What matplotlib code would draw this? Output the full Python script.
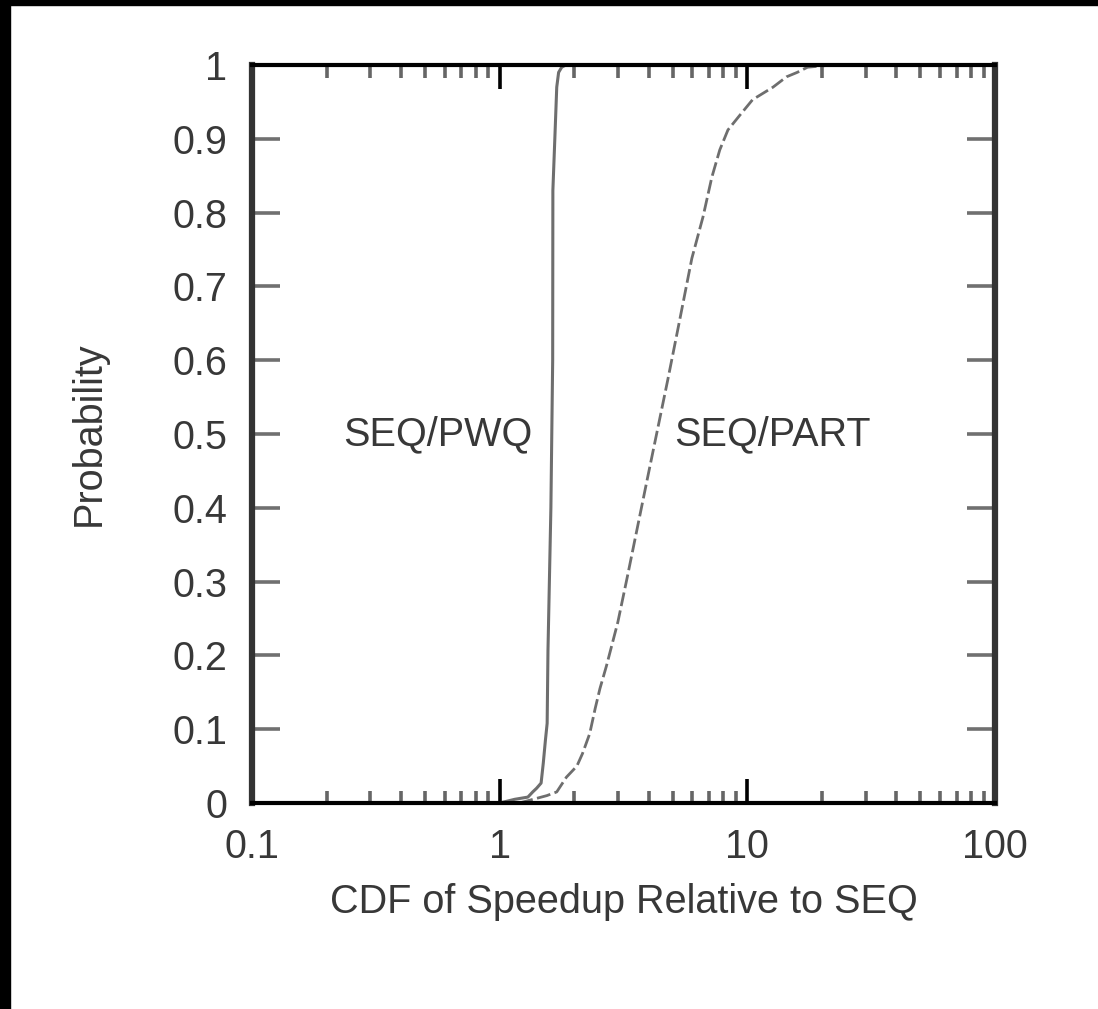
import matplotlib
matplotlib.use('Agg')
import matplotlib.pyplot as plt
from matplotlib.patches import Rectangle
from matplotlib.ticker import LogLocator, FixedLocator, NullFormatter

# curva SEQ/PWQ (linea continua)
pwq_x = [1.0, 1.15, 1.3, 1.36, 1.41, 1.47, 1.50, 1.53, 1.555, 1.567, 1.61, 1.637, 1.64,
         1.67, 1.70, 1.73, 1.78, 1.85, 2.0]
pwq_y = [0.0, 0.005, 0.008, 0.015, 0.02, 0.027, 0.054, 0.085, 0.108, 0.207, 0.4, 0.6, 0.83,
         0.9, 0.97, 0.99, 0.997, 1.0, 1.0]

# curva SEQ/PART (linea discontinua)
part_x = [1.2, 1.4, 1.55, 1.7, 1.86, 2.05, 2.16, 2.31, 2.43, 2.54, 2.70, 3.0, 3.27, 3.94,
          4.77, 5.3, 5.97, 6.62, 7.19, 7.74, 8.35, 9.33, 10.5, 12.7, 14.4, 15.9, 17.5, 22.0]
part_y = [0.0, 0.006, 0.01, 0.015, 0.035, 0.05, 0.067, 0.094, 0.128, 0.155, 0.186, 0.245,
          0.305, 0.438, 0.573, 0.65, 0.738, 0.794, 0.848, 0.885, 0.912, 0.932, 0.953, 0.970,
          0.984, 0.99, 0.997, 1.0]

x_ticks = [0.1, 1, 10, 100]
x_labels = ['0.1', '1', '10', '100']
y_ticks = [0, 0.1, 0.2, 0.3, 0.4, 0.5, 0.6, 0.7, 0.8, 0.9, 1]
y_labels = ['0', '0.1', '0.2', '0.3', '0.4', '0.5', '0.6', '0.7', '0.8', '0.9', '1']

plt.rcParams['font.family'] = ['Liberation Sans', 'DejaVu Sans']
fs = 28.5
txt = '#383838'

fig = plt.figure(figsize=(10.98, 10.09), dpi=100)
ax = fig.add_axes([252 / 1098, 1 - 803 / 1009, (995 - 252) / 1098, (803 - 65) / 1009])

ax.plot(pwq_x, pwq_y, color='#6e6e6e', lw=2.2, solid_capstyle='butt')
ax.plot(part_x, part_y, color='#6e6e6e', lw=2.0, linestyle=(0, (5, 1.6)))

ax.set_xscale('log')
ax.set_xlim(0.1, 100)
ax.set_ylim(0, 1)

ax.xaxis.set_major_locator(FixedLocator(x_ticks))
ax.set_xticklabels(x_labels)
ax.xaxis.set_minor_locator(LogLocator(base=10, subs=range(2, 10)))
ax.xaxis.set_minor_formatter(NullFormatter())
ax.set_yticks(y_ticks)
ax.set_yticklabels(y_labels)

ax.tick_params(axis='x', which='major', direction='in', top=True, bottom=True,
               length=17, width=2.6, color='black', pad=18, labelsize=fs, labelcolor=txt)
ax.tick_params(axis='x', which='minor', direction='in', top=True, bottom=True,
               length=9, width=2.6, color='#666666')
ax.tick_params(axis='y', which='major', direction='in', left=True, right=True,
               length=20, width=2.6, color='#707070', pad=18, labelsize=fs, labelcolor=txt)

for lado in ['top', 'bottom']:
    ax.spines[lado].set_linewidth(3)
    ax.spines[lado].set_color('black')
for lado in ['left', 'right']:
    ax.spines[lado].set_linewidth(4.5)
    ax.spines[lado].set_color('#333333')

ax.set_xlabel('CDF of Speedup Relative to SEQ', fontsize=fs, color=txt, labelpad=12)
ax.set_ylabel('Probability', fontsize=fs, color=txt, labelpad=46)

ax.text(0.564, 0.5, 'SEQ/PWQ', fontsize=fs, color=txt, ha='center', va='center')
ax.text(12.6, 0.5, 'SEQ/PART', fontsize=fs, color=txt, ha='center', va='center')

# marco negro arriba y a la izquierda
fig.patches.append(Rectangle((0, 1 - 5 / 1009), 1, 5 / 1009, transform=fig.transFigure,
                             color='black', zorder=10))
fig.patches.append(Rectangle((0, 0), 10 / 1098, 1, transform=fig.transFigure,
                             color='black', zorder=10))

fig.savefig('out.png', dpi=100)
